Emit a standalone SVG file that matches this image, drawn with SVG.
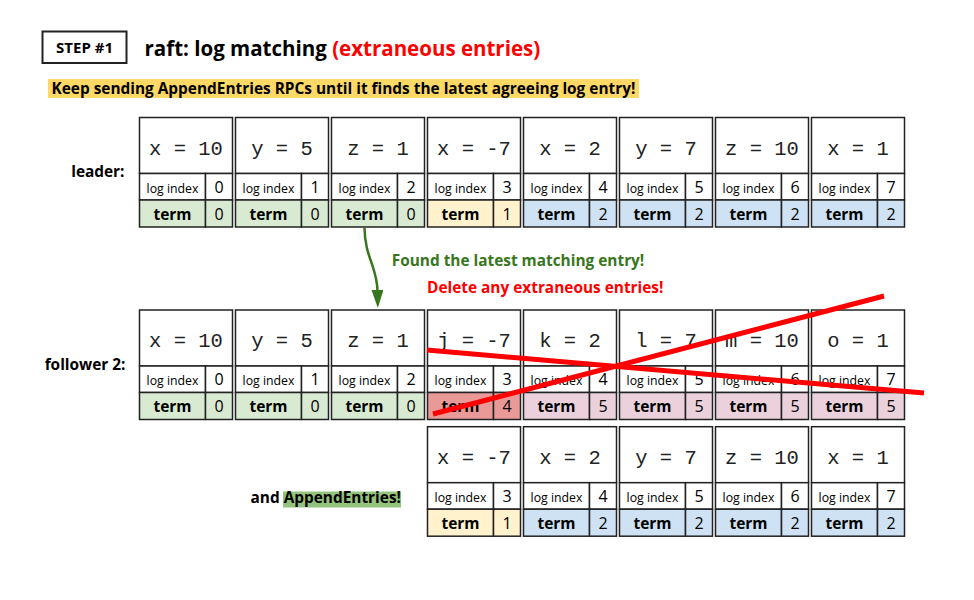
<svg xmlns="http://www.w3.org/2000/svg" width="974" height="600" viewBox="0 0 974 600">
<defs>
<style>
.bx{stroke:#222;stroke-width:1.5}
.wh{fill:#fff}
.gr{fill:#d9ead3}
.ye{fill:#fff2cc}
.bl{fill:#cfe2f3}
.pk{fill:#ead1dc}
.rd{fill:#ea9999}
.val{font-family:"Liberation Mono","Courier New",monospace;font-size:20.5px;fill:#222;text-anchor:middle}
.li{font-family:"Open Sans","Liberation Sans",sans-serif;font-size:12.3px;fill:#000;text-anchor:middle}
.num{font-family:"Open Sans","Liberation Sans",sans-serif;font-size:16px;fill:#000;text-anchor:middle}
.tm{font-family:"Open Sans","Liberation Sans",sans-serif;font-size:15.5px;font-weight:bold;fill:#000;text-anchor:middle}
.b15{font-family:"Open Sans","Liberation Sans",sans-serif;font-size:15.4px;font-weight:bold}
</style>
<marker id="ah" viewBox="0 0 18 12" refX="1" refY="6" markerWidth="18" markerHeight="12" markerUnits="userSpaceOnUse" orient="auto">
<path d="M0,0 L18,6 L0,12 Z" fill="#38761d"/>
</marker>
<g id="cellbase">
<rect class="bx wh" width="93" height="56"/>
<rect class="bx wh" y="56" width="66" height="26.5"/>
<rect class="bx wh" x="66" y="56" width="27" height="26.5"/>
</g>
</defs>
<rect width="974" height="600" fill="#fff"/>

<g id="header">
<rect x="42.5" y="31.5" width="84" height="31.5" fill="#fff" stroke="#222" stroke-width="2"/>
<text class="b15" x="84.5" y="52.7" text-anchor="middle" fill="#000" style="font-size:15px">STEP #1</text>
<text x="144.5" y="55.5" font-family="Open Sans, Liberation Sans, sans-serif" font-size="20.5" font-weight="bold" fill="#000">raft: log matching <tspan fill="#ff0000">(extraneous entries)</tspan></text>
<rect x="48" y="79" width="591" height="19" fill="#ffd966"/>
<text class="b15" x="51.5" y="94" fill="#000">Keep sending AppendEntries RPCs until it finds the latest agreeing log entry!</text>
</g>

<g id="labels">
<text class="b15" x="124.5" y="177" text-anchor="end" fill="#000">leader:</text>
<text class="b15" x="125.5" y="370" text-anchor="end" fill="#000">follower 2:</text>
<rect x="283" y="491.5" width="118" height="16" fill="#93c47d"/>
<text class="b15" x="250.5" y="503" fill="#000">and AppendEntries!</text>
<text class="b15" x="391.7" y="265.7" fill="#38761d">Found the latest matching entry!</text>
<text class="b15" x="427" y="293" fill="#ff0000">Delete any extraneous entries!</text>
</g>

<!-- leader row -->
<g id="leader-0" transform="translate(139.5,117.5)"><use href="#cellbase"/><rect class="bx gr" y="82.5" width="66" height="27"/><rect class="bx gr" x="66" y="82.5" width="27" height="27"/><text class="val" x="46.5" y="37">x = 10</text><text class="li" x="33" y="75">log index</text><text class="num" x="79.5" y="75">0</text><text class="tm" x="33" y="102">term</text><text class="num" x="79.5" y="102">0</text></g>
<g id="leader-1" transform="translate(235.5,117.5)"><use href="#cellbase"/><rect class="bx gr" y="82.5" width="66" height="27"/><rect class="bx gr" x="66" y="82.5" width="27" height="27"/><text class="val" x="46.5" y="37">y = 5</text><text class="li" x="33" y="75">log index</text><text class="num" x="79.5" y="75">1</text><text class="tm" x="33" y="102">term</text><text class="num" x="79.5" y="102">0</text></g>
<g id="leader-2" transform="translate(331.5,117.5)"><use href="#cellbase"/><rect class="bx gr" y="82.5" width="66" height="27"/><rect class="bx gr" x="66" y="82.5" width="27" height="27"/><text class="val" x="46.5" y="37">z = 1</text><text class="li" x="33" y="75">log index</text><text class="num" x="79.5" y="75">2</text><text class="tm" x="33" y="102">term</text><text class="num" x="79.5" y="102">0</text></g>
<g id="leader-3" transform="translate(427.5,117.5)"><use href="#cellbase"/><rect class="bx ye" y="82.5" width="66" height="27"/><rect class="bx ye" x="66" y="82.5" width="27" height="27"/><text class="val" x="46.5" y="37">x = -7</text><text class="li" x="33" y="75">log index</text><text class="num" x="79.5" y="75">3</text><text class="tm" x="33" y="102">term</text><text class="num" x="79.5" y="102">1</text></g>
<g id="leader-4" transform="translate(523.5,117.5)"><use href="#cellbase"/><rect class="bx bl" y="82.5" width="66" height="27"/><rect class="bx bl" x="66" y="82.5" width="27" height="27"/><text class="val" x="46.5" y="37">x = 2</text><text class="li" x="33" y="75">log index</text><text class="num" x="79.5" y="75">4</text><text class="tm" x="33" y="102">term</text><text class="num" x="79.5" y="102">2</text></g>
<g id="leader-5" transform="translate(619.5,117.5)"><use href="#cellbase"/><rect class="bx bl" y="82.5" width="66" height="27"/><rect class="bx bl" x="66" y="82.5" width="27" height="27"/><text class="val" x="46.5" y="37">y = 7</text><text class="li" x="33" y="75">log index</text><text class="num" x="79.5" y="75">5</text><text class="tm" x="33" y="102">term</text><text class="num" x="79.5" y="102">2</text></g>
<g id="leader-6" transform="translate(715.5,117.5)"><use href="#cellbase"/><rect class="bx bl" y="82.5" width="66" height="27"/><rect class="bx bl" x="66" y="82.5" width="27" height="27"/><text class="val" x="46.5" y="37">z = 10</text><text class="li" x="33" y="75">log index</text><text class="num" x="79.5" y="75">6</text><text class="tm" x="33" y="102">term</text><text class="num" x="79.5" y="102">2</text></g>
<g id="leader-7" transform="translate(811.5,117.5)"><use href="#cellbase"/><rect class="bx bl" y="82.5" width="66" height="27"/><rect class="bx bl" x="66" y="82.5" width="27" height="27"/><text class="val" x="46.5" y="37">x = 1</text><text class="li" x="33" y="75">log index</text><text class="num" x="79.5" y="75">7</text><text class="tm" x="33" y="102">term</text><text class="num" x="79.5" y="102">2</text></g>

<!-- follower row -->
<g id="follower-0" transform="translate(139.5,310)"><use href="#cellbase"/><rect class="bx gr" y="82.5" width="66" height="27"/><rect class="bx gr" x="66" y="82.5" width="27" height="27"/><text class="val" x="46.5" y="37">x = 10</text><text class="li" x="33" y="75">log index</text><text class="num" x="79.5" y="75">0</text><text class="tm" x="33" y="102">term</text><text class="num" x="79.5" y="102">0</text></g>
<g id="follower-1" transform="translate(235.5,310)"><use href="#cellbase"/><rect class="bx gr" y="82.5" width="66" height="27"/><rect class="bx gr" x="66" y="82.5" width="27" height="27"/><text class="val" x="46.5" y="37">y = 5</text><text class="li" x="33" y="75">log index</text><text class="num" x="79.5" y="75">1</text><text class="tm" x="33" y="102">term</text><text class="num" x="79.5" y="102">0</text></g>
<g id="follower-2" transform="translate(331.5,310)"><use href="#cellbase"/><rect class="bx gr" y="82.5" width="66" height="27"/><rect class="bx gr" x="66" y="82.5" width="27" height="27"/><text class="val" x="46.5" y="37">z = 1</text><text class="li" x="33" y="75">log index</text><text class="num" x="79.5" y="75">2</text><text class="tm" x="33" y="102">term</text><text class="num" x="79.5" y="102">0</text></g>
<g id="follower-3" transform="translate(427.5,310)"><use href="#cellbase"/><rect class="bx rd" y="82.5" width="66" height="27"/><rect class="bx rd" x="66" y="82.5" width="27" height="27"/><text class="val" x="46.5" y="37">j = -7</text><text class="li" x="33" y="75">log index</text><text class="num" x="79.5" y="75">3</text><text class="tm" x="33" y="102">term</text><text class="num" x="79.5" y="102">4</text></g>
<g id="follower-4" transform="translate(523.5,310)"><use href="#cellbase"/><rect class="bx pk" y="82.5" width="66" height="27"/><rect class="bx pk" x="66" y="82.5" width="27" height="27"/><text class="val" x="46.5" y="37">k = 2</text><text class="li" x="33" y="75">log index</text><text class="num" x="79.5" y="75">4</text><text class="tm" x="33" y="102">term</text><text class="num" x="79.5" y="102">5</text></g>
<g id="follower-5" transform="translate(619.5,310)"><use href="#cellbase"/><rect class="bx pk" y="82.5" width="66" height="27"/><rect class="bx pk" x="66" y="82.5" width="27" height="27"/><text class="val" x="46.5" y="37">l = 7</text><text class="li" x="33" y="75">log index</text><text class="num" x="79.5" y="75">5</text><text class="tm" x="33" y="102">term</text><text class="num" x="79.5" y="102">5</text></g>
<g id="follower-6" transform="translate(715.5,310)"><use href="#cellbase"/><rect class="bx pk" y="82.5" width="66" height="27"/><rect class="bx pk" x="66" y="82.5" width="27" height="27"/><text class="val" x="46.5" y="37">m = 10</text><text class="li" x="33" y="75">log index</text><text class="num" x="79.5" y="75">6</text><text class="tm" x="33" y="102">term</text><text class="num" x="79.5" y="102">5</text></g>
<g id="follower-7" transform="translate(811.5,310)"><use href="#cellbase"/><rect class="bx pk" y="82.5" width="66" height="27"/><rect class="bx pk" x="66" y="82.5" width="27" height="27"/><text class="val" x="46.5" y="37">o = 1</text><text class="li" x="33" y="75">log index</text><text class="num" x="79.5" y="75">7</text><text class="tm" x="33" y="102">term</text><text class="num" x="79.5" y="102">5</text></g>

<!-- appended row -->
<g id="append-3" transform="translate(427.5,426.7)"><use href="#cellbase"/><rect class="bx ye" y="82.5" width="66" height="27"/><rect class="bx ye" x="66" y="82.5" width="27" height="27"/><text class="val" x="46.5" y="37">x = -7</text><text class="li" x="33" y="75">log index</text><text class="num" x="79.5" y="75">3</text><text class="tm" x="33" y="102">term</text><text class="num" x="79.5" y="102">1</text></g>
<g id="append-4" transform="translate(523.5,426.7)"><use href="#cellbase"/><rect class="bx bl" y="82.5" width="66" height="27"/><rect class="bx bl" x="66" y="82.5" width="27" height="27"/><text class="val" x="46.5" y="37">x = 2</text><text class="li" x="33" y="75">log index</text><text class="num" x="79.5" y="75">4</text><text class="tm" x="33" y="102">term</text><text class="num" x="79.5" y="102">2</text></g>
<g id="append-5" transform="translate(619.5,426.7)"><use href="#cellbase"/><rect class="bx bl" y="82.5" width="66" height="27"/><rect class="bx bl" x="66" y="82.5" width="27" height="27"/><text class="val" x="46.5" y="37">y = 7</text><text class="li" x="33" y="75">log index</text><text class="num" x="79.5" y="75">5</text><text class="tm" x="33" y="102">term</text><text class="num" x="79.5" y="102">2</text></g>
<g id="append-6" transform="translate(715.5,426.7)"><use href="#cellbase"/><rect class="bx bl" y="82.5" width="66" height="27"/><rect class="bx bl" x="66" y="82.5" width="27" height="27"/><text class="val" x="46.5" y="37">z = 10</text><text class="li" x="33" y="75">log index</text><text class="num" x="79.5" y="75">6</text><text class="tm" x="33" y="102">term</text><text class="num" x="79.5" y="102">2</text></g>
<g id="append-7" transform="translate(811.5,426.7)"><use href="#cellbase"/><rect class="bx bl" y="82.5" width="66" height="27"/><rect class="bx bl" x="66" y="82.5" width="27" height="27"/><text class="val" x="46.5" y="37">x = 1</text><text class="li" x="33" y="75">log index</text><text class="num" x="79.5" y="75">7</text><text class="tm" x="33" y="102">term</text><text class="num" x="79.5" y="102">2</text></g>

<g id="connectors">
<path d="M364.5,228 C365,258 377,266 377.5,291" fill="none" stroke="#38761d" stroke-width="2.5" marker-end="url(#ah)"/>
<line x1="427" y1="350" x2="924" y2="393" stroke="#ff0000" stroke-width="5"/>
<line x1="433" y1="414" x2="884" y2="296" stroke="#ff0000" stroke-width="5"/>
</g>
</svg>
